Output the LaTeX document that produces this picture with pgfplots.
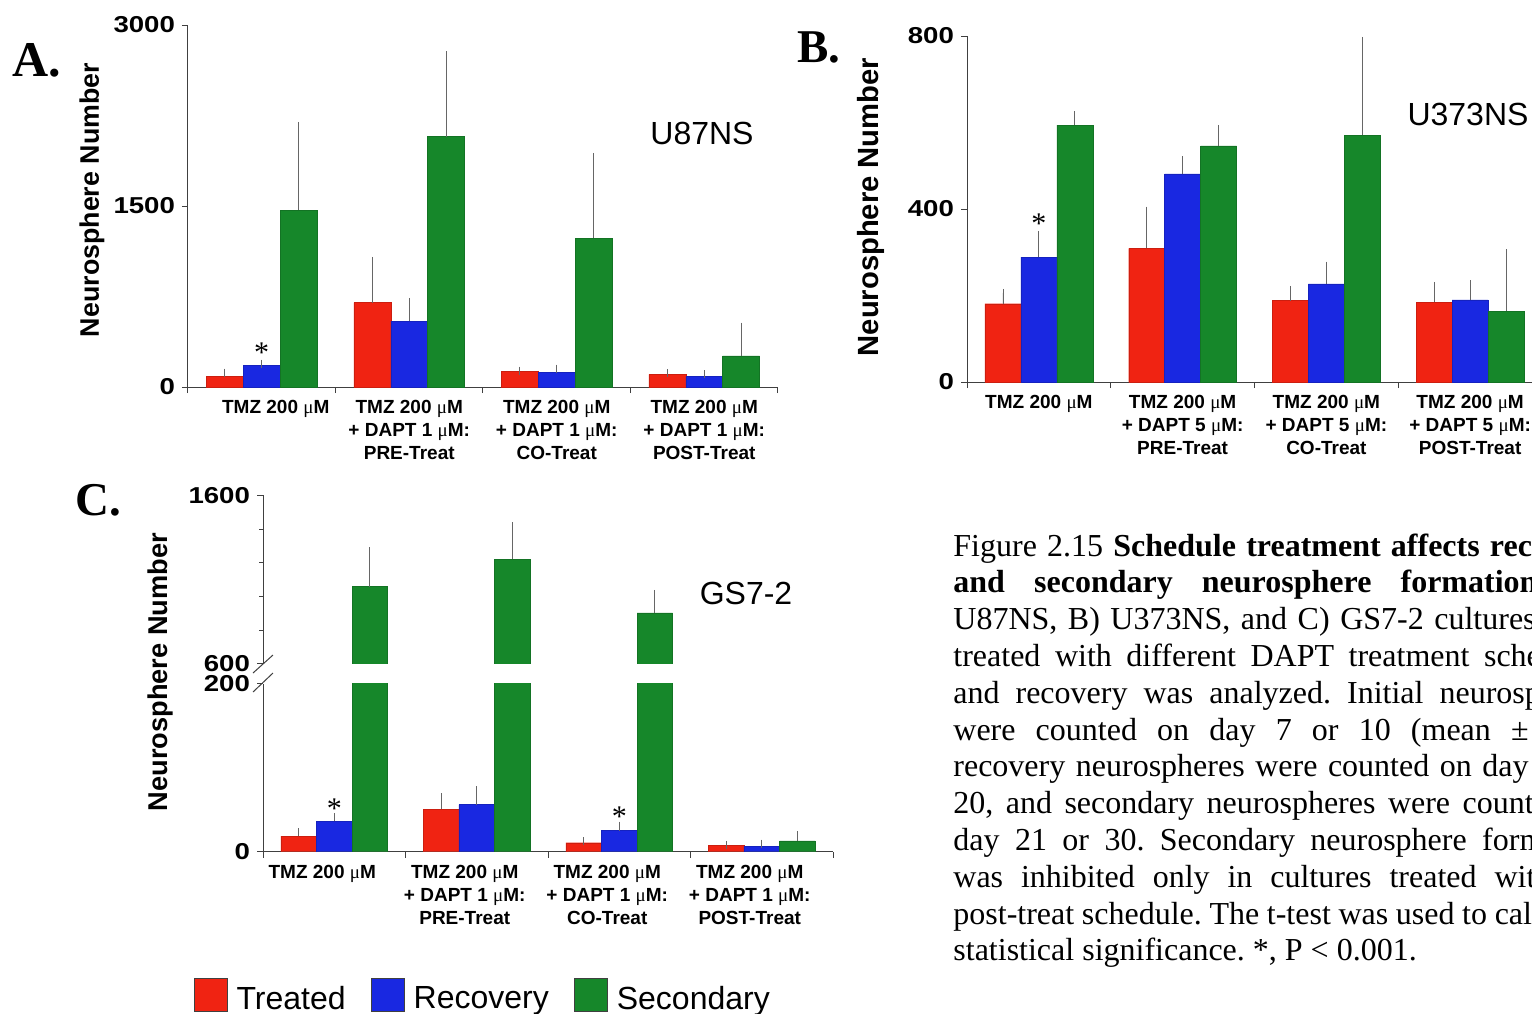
\documentclass[border=0pt]{standalone}
\usepackage{pgfplots}
\usepackage{pgfplotstable}
\pgfplotsset{compat=1.18}
\usepackage{fontspec}
\setmainfont{Liberation Sans}
\newfontfamily\serif{Liberation Serif}
\newfontfamily\mytickfont[FakeStretch=1.2]{Liberation Sans}
\definecolor{tred}{RGB}{240,35,18}
\definecolor{tblue}{RGB}{25,40,225}
\definecolor{tgreen}{RGB}{22,135,42}
\newcommand\uM{{\serif\mdseries μ}M}
\newcommand\cl[1]{\makebox[327.5pt][s]{#1}\par}

\pgfplotstableread{
x r re b be g ge
0 91 28 180 14 1465 700
1 700 345 547 158 2076 675
2 127 8 122 30 1233 675
3 105 11 86 19 257 243
}\tabA
\pgfplotstableread{
x r re b be g ge
0 181 25 289 51 594 23
1 309 87 481 32 546 39
2 188 25 227 42 571 218
3 184 38 190 36 164 134
}\tabB
\pgfplotstableread{
x r re b be g ge
0 18.5 4.5 36 5 1058 209
1 50.6 14.4 56 17 1220 197
2 10.7 1.6 25 6 902 113
3 7.4 0.8 6.6 2.9 12.8 7
}\tabC

\pgfplotsset{
  /pgf/number format/assume math mode=true,
  /pgf/number format/1000 sep={},
  panel/.style={
    scale only axis, ybar, bar width=0.25,
    xmin=-0.5, xmax=3.5,
    axis x line*=bottom, axis y line*=left,
    axis line style={black!75, line width=0.5pt},
    xtick={-0.5,0.5,1.5,2.5,3.5},
    x tick label as interval,
    tick align=outside,
    major tick length=3pt, minor tick length=2pt,
    tick style={black!75, line width=0.5pt},
    xticklabel style={align=center, font=\bfseries\fontsize{9.5}{11.5}\selectfont, text=black},
    yticklabel style={font=\mytickfont\bfseries\fontsize{11.5}{13}\selectfont},
    clip=true,
    error bars/y dir=plus, error bars/y explicit,
    error bars/error bar style={black!60, line width=0.4pt},
    error bars/error mark options={black!60, line width=0.4pt, mark size=2pt},
  },
  pr/.style={fill=tred, draw=tred!85!black, line width=0.2pt, bar shift=-0.25},
  pb/.style={fill=tblue, draw=tblue!85!black, line width=0.2pt, bar shift=0},
  pg/.style={fill=tgreen, draw=tgreen!85!black, line width=0.2pt, bar shift=0.25},
}

\begin{document}
\frenchspacing
\begin{tikzpicture}
\path[use as bounding box] (0pt,0pt) rectangle (766pt,-506.5pt);

% ---------- Panel A ----------
\begin{axis}[panel, at={(94pt,-193.5pt)}, anchor=south west,
  width=295pt, height=181pt, ymin=0, ymax=3000, ytick={0,1500,3000},
  xticklabels={{\hspace*{14pt}TMZ 200 \uM},{TMZ 200 \uM\\+ DAPT 1 \uM:\\PRE-Treat},{TMZ 200 \uM\\+ DAPT 1 \uM:\\CO-Treat},{TMZ 200 \uM\\+ DAPT 1 \uM:\\POST-Treat}}]
\addplot[pr] table[x=x,y=r,y error=re]{\tabA};
\addplot[pb] table[x=x,y=b,y error=be]{\tabA};
\addplot[pg] table[x=x,y=g,y error=ge]{\tabA};
\node[anchor=base, font=\serif\fontsize{15}{15}\selectfont] at (axis cs:0,205) {*};
\end{axis}

% ---------- Panel B ----------
\begin{axis}[panel, at={(483.5pt,-191pt)}, anchor=south west,
  width=287.5pt, height=173pt, ymin=0, ymax=800, ytick={0,400,800},
  xticklabels={{TMZ 200 \uM},{TMZ 200 \uM\\+ DAPT 5 \uM:\\PRE-Treat},{TMZ 200 \uM\\+ DAPT 5 \uM:\\CO-Treat},{TMZ 200 \uM\\+ DAPT 5 \uM:\\POST-Treat}}]
\addplot[pr] table[x=x,y=r,y error=re]{\tabB};
\addplot[pb] table[x=x,y=b,y error=be]{\tabB};
\addplot[pg] table[x=x,y=g,y error=ge]{\tabB};
\node[anchor=base, font=\serif\fontsize{15}{15}\selectfont] at (axis cs:0,343) {*};
\end{axis}

% ---------- Panel C (lower part) ----------
\begin{axis}[panel, at={(131.5pt,-425.85pt)}, anchor=south west,
  width=285pt, height=84.1pt, ymin=0, ymax=200, ytick={0,200},
  xticklabel style={xshift=-6pt},
  xticklabels={{TMZ 200 \uM},{TMZ 200 \uM\\+ DAPT 1 \uM:\\PRE-Treat},{TMZ 200 \uM\\+ DAPT 1 \uM:\\CO-Treat},{TMZ 200 \uM\\+ DAPT 1 \uM:\\POST-Treat}},
  legend style={at={(-0.133,-0.877)}, anchor=west, draw=none, fill=none,
    legend columns=3, font=\fontsize{16}{19}\selectfont,
    /tikz/every odd column/.append style={column sep=0pt},
    /tikz/every even column/.append style={column sep=8pt},
    nodes={inner sep=4.5pt}},
  legend image code/.code={\draw[#1, draw=black!75, line width=0.5pt] (0pt,-6pt) rectangle (16.5pt,10.5pt);}]
\addplot[pr] table[x=x,y=r,y error=re]{\tabC};
\addplot[pb] table[x=x,y=b,y error=be]{\tabC};
\addplot[pg] table[x=x,y=g,y error=ge]{\tabC};
\legend{Treated,Recovery,Secondary}
\node[anchor=base, font=\serif\fontsize{15}{15}\selectfont] at (axis cs:0,40) {*};
\node[anchor=base, font=\serif\fontsize{15}{15}\selectfont] at (axis cs:2,30) {*};
\end{axis}

% ---------- Panel C (upper part) ----------
\begin{axis}[panel, at={(131.5pt,-331.9pt)}, anchor=south west,
  width=285pt, height=84.25pt, ymin=600, ymax=1600, ytick={600,1600},
  minor ytick={800,1000,1200,1400}, axis x line=none]
\addplot[pg] table[x=x,y=g,y error=ge, skip coords between index={3}{4}]{\tabC};
\end{axis}

% break marks
\draw[black!75, line width=0.5pt] (126.5pt,-336.5pt) -- (136.5pt,-327.5pt);
\draw[black!75, line width=0.5pt] (126.5pt,-346pt) -- (136.5pt,-336.5pt);

% axis titles
\node[rotate=90, font=\bfseries\fontsize{13.4}{15}\selectfont] at (46pt,-100pt) {Neurosphere Number};
\node[rotate=90, font=\bfseries\fontsize{14.6}{16}\selectfont] at (435.5pt,-103.5pt) {Neurosphere Number};
\node[rotate=90, font=\bfseries\fontsize{13.6}{15}\selectfont] at (80pt,-336pt) {Neurosphere Number};

% panel titles
\node[font=\fontsize{16}{19}\selectfont] at (351pt,-66.5pt) {U87NS};
\node[font=\fontsize{16}{19}\selectfont] at (734pt,-57pt) {U373NS};
\node[font=\fontsize{16}{19}\selectfont] at (373pt,-296.5pt) {GS7-2};

% panel letters
\node[anchor=base west, inner sep=0pt, font=\serif\bfseries\fontsize{25}{25}\selectfont] at (6pt,-38pt) {A.};
\node[anchor=base west, inner sep=0pt, font=\serif\bfseries\fontsize{23.5}{25}\selectfont] at (398.5pt,-31pt) {B.};
\node[anchor=base west, inner sep=0pt, font=\serif\bfseries\fontsize{23.5}{25}\selectfont] at (37.5pt,-257.5pt) {C.};

% caption
\node[anchor=base west, inner sep=0pt] at (476.5pt,-278pt) {\begin{minipage}[t]{327.5pt}\serif\fontsize{16}{18.4}\selectfont\parindent=0pt
\cl{Figure 2.15 \textbf{Schedule treatment affects recovery}}
\cl{\textbf{and secondary neurosphere formation.} A)}
\cl{U87NS, B) U373NS, and C) GS7-2 cultures were}
\cl{treated with different DAPT treatment schedules}
\cl{and recovery was analyzed. Initial neurospheres}
\cl{were counted on day 7 or 10 (mean ± SD),}
\cl{recovery neurospheres were counted on day 14 or}
\cl{20, and secondary neurospheres were counted on}
\cl{day 21 or 30. Secondary neurosphere formation}
\cl{was inhibited only in cultures treated with the}
\cl{post-treat schedule. The t-test was used to calculate}
statistical significance. *, P < 0.001.
\end{minipage}};
\end{tikzpicture}
\end{document}
